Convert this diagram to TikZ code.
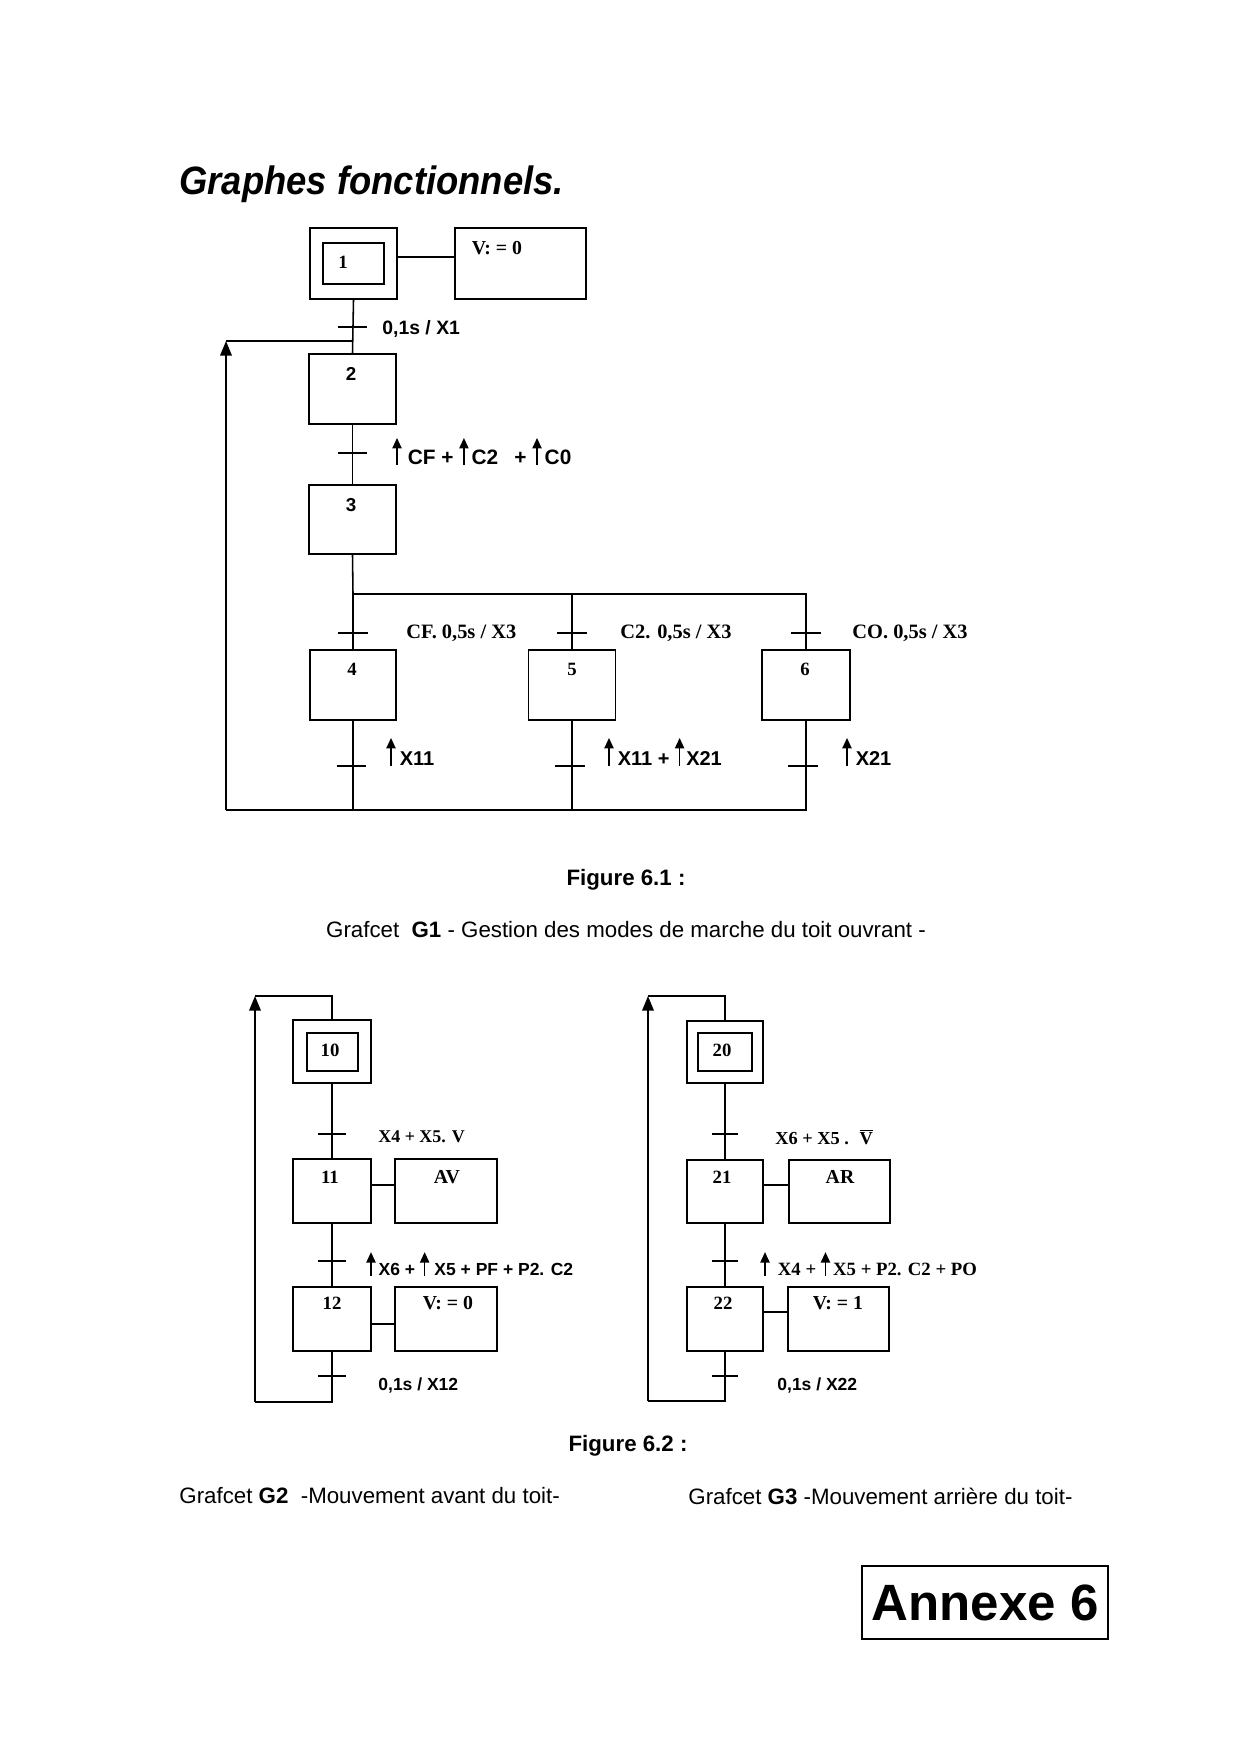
\documentclass[tikz,border=0pt]{standalone}
\usepackage{fontspec}
\setmainfont{Liberation Serif}
\setsansfont{Liberation Sans}
\usepackage{graphicx}
\usetikzlibrary{arrows.meta,calc}
\newcommand{\pu}{0.48pt}
\newcommand{\fsz}[1]{\fontsize{#1}{#1}\selectfont}
\newcommand{\rise}[1][12pt]{\tikz[baseline=0pt]{\draw[line width=0.75pt,-{Triangle[length=5pt,width=4.4pt]}] (0,-0.3pt) -- (0,#1);}}
\newcommand{\trtick}[2]{\draw[tk] ($(#1)+(-#2,0)$) -- ($(#1)+(#2,0)$);}
\begin{document}
\begin{tikzpicture}[x=\pu, y=-\pu,
  stepbox/.style={draw, line width=0.95pt, inner sep=0pt},
  sz/.style 2 args={minimum width=#1*\pu, minimum height=#2*\pu},
  num/.style={font=\fsz{9}\bfseries, inner sep=0pt},
  numsans/.style={font=\sffamily\fsz{9}\bfseries, inner sep=0pt},
  act/.style={font=\fsz{9.5}\bfseries, inner sep=0pt},
  lsans/.style={font=\sffamily\fsz{#1}\bfseries, inner sep=0pt, anchor=west},
  lserif/.style={font=\fsz{#1}\bfseries, inner sep=0pt, anchor=west},
  lnk/.style={line width=0.75pt},
  tk/.style={line width=0.8pt},
  ret/.style={line width=0.95pt},
  arr/.style={ret, -{Triangle[length=7pt,width=5.5pt]}},
  captxt/.style={font=\sffamily\fsz{10.7}, inner sep=0pt}
]
\useasboundingbox (0,0) rectangle (1240,1754);

% ---------- title ----------
\node[anchor=base west, inner sep=0pt, font=\sffamily\bfseries\itshape\fsz{19}] (title) at (179,194) {\scalebox{0.92}[1]{Graphes fonctionnels.}};

% ---------- G1 ----------
\node[stepbox, sz={87}{71}] (s1) at (353.5,263.5) {};
\node[stepbox, sz={61}{41}] (s1i) at (353.5,263.5) {};
\node[num] (n1) at (343,262) {1};
\node[stepbox, sz={131}{71}] (a1) at (520.5,263.5) {};
\node[act] (a1t) at (497,248) {V:~=~0};
\draw[lnk] ($(s1.east)+(0,-6.5)$) -- ($(a1.west)+(0,-6.5)$);

\node[stepbox, sz={87}{70}] (s2) at (352.5,389) {};
\node[numsans] (n2) at (351,374) {2};
\node[stepbox, sz={87}{69}] (s3) at (352.5,519.5) {};
\node[numsans] (n3) at (351,505) {3};

\draw[lnk] (s1.south) -- (s2.north);
\coordinate (t1) at (352.5,327);
\trtick{t1}{14.5}
\node[lsans=9.3] (l1) at (382,329) {0,1s / X1};

\draw[lnk] (s2.south) -- (s3.north);
\coordinate (t2) at (352.5,453);
\trtick{t2}{14.5}
\node[lsans=10, anchor=base west] (l2) at (392,464) {\rise[12.5pt]\hspace{3pt}CF + \rise[12.5pt]\hspace{1.5pt}C2\hspace{5pt} + \rise[12.5pt]\hspace{1.5pt}C0};

\node[stepbox, sz={86}{70}] (s4) at (353,685) {};
\node[num] (n4) at (352,669) {4};
\node[stepbox, sz={87}{70}] (s5) at (572,685) {};
\node[num] (n5) at (572,669) {5};
\node[stepbox, sz={88}{70}] (s6) at (806,685) {};
\node[num] (n6) at (805,669) {6};

\coordinate (b0) at (353,594);
\draw[lnk] (s3.south) -- (b0) -- (b0 -| s6.north) -- (s6.north);
\draw[lnk] (b0) -- (s4.north);
\draw[lnk] (b0 -| s5.north) -- (s5.north);
\coordinate (t4) at (353,633);
\coordinate (t5) at (572,633);
\coordinate (t6) at (806,633);
\trtick{t4}{15}
\trtick{t5}{15}
\trtick{t6}{15}
\node[lserif=9.8] (l4) at (406,633) {CF. 0,5s / X3};
\node[lserif=9.8] (l5) at (620,633) {C2. 0,5s / X3};
\node[lserif=9.8] (l6) at (852,633) {CO. 0,5s / X3};

\coordinate (r0) at (226,810);
\coordinate (r1) at (226,341);
\draw[lnk] (s4.south) -- (s4.south |- r0);
\draw[lnk] (s5.south) -- (s5.south |- r0);
\draw[ret] (s6.south) -- (s6.south |- r0) -- (r0);
\draw[arr] (r0) -- (r1);
\draw[ret] (r1) -- (r1 -| s2.north);
\coordinate (t7) at (351,766);
\coordinate (t8) at (570,766);
\coordinate (t9) at (803,766);
\trtick{t7}{14.5}
\trtick{t8}{15}
\trtick{t9}{15}
\node[lsans=9.6, anchor=base west] (l7) at (386,765) {\rise[13pt]\hspace{2pt}X11};
\node[lsans=9.6, anchor=base west] (l8) at (604,765) {\rise[13pt]\hspace{2pt}X11 + \rise[13pt]\hspace{1pt}X21};
\node[lsans=9.6, anchor=base west] (l9) at (842,765) {\rise[13pt]\hspace{2pt}X21};

\node[captxt, font=\sffamily\fsz{10.7}\bfseries] (f1) at (626,880) {Figure 6.1 :};
\node[captxt] (c1) at (626,930) {Grafcet\ \ \textbf{G1} - Gestion des modes de marche du toit ouvrant -};

% ---------- G2 ----------
\node[stepbox, sz={78}{63}] (s10) at (332,1051.5) {};
\node[stepbox, sz={51}{38}] (s10i) at (332.5,1052) {};
\node[num] (n10) at (330,1050) {10};
\node[stepbox, sz={78}{64}] (s11) at (332,1191) {};
\node[num] (n11) at (330,1177) {11};
\node[stepbox, sz={102}{64}] (a11) at (446,1191) {};
\node[act] (a11t) at (447,1177) {AV};
\node[stepbox, sz={78}{64}] (s12) at (332,1319) {};
\node[num] (n12) at (332,1303) {12};
\node[stepbox, sz={102}{64}] (a12) at (446,1319) {};
\node[act] (a12t) at (448,1303) {V:~=~0};

\draw[lnk] ($(s11.east)+(0,-6)$) -- ($(a11.west)+(0,-6)$);
\draw[lnk] ($(s12.east)+(0,5)$) -- ($(a12.west)+(0,5)$);
\draw[lnk] (s10.south) -- (s11.north);
\draw[lnk] (s11.south) -- (s12.north);
\coordinate (g2b) at (255,1402);
\coordinate (g2t) at (255,996);
\draw[ret] (s12.south) -- (s12.south |- g2b) -- (g2b);
\draw[arr] (g2b) -- (g2t);
\draw[lnk] (g2t) -- (g2t -| s10.north) -- (s10.north);
\coordinate (t10) at (332,1134);
\coordinate (t11) at (332,1261);
\coordinate (t12) at (332,1376);
\trtick{t10}{14}
\trtick{t11}{14}
\trtick{t12}{14}
\node[lserif=8.6] (l10) at (378,1137) {X4 + X5. V};
\node[lsans=8.4, anchor=base west] (l11) at (366,1275) {\rise[11pt]\hspace{1.5pt}X6 + \rise[11pt]\hspace{2.5pt}X5 + PF + P2. C2};
\node[lsans=8.4] (l12) at (378,1385) {0,1s / X12};

% ---------- G3 ----------
\node[stepbox, sz={76}{62}] (s20) at (725,1052) {};
\node[stepbox, sz={54}{38}] (s20i) at (725,1052) {};
\node[num] (n20) at (722,1050) {20};
\node[stepbox, sz={76}{63}] (s21) at (725,1191.5) {};
\node[num] (n21) at (722,1177) {21};
\node[stepbox, sz={101}{63}] (a21) at (839.5,1191.5) {};
\node[act] (a21t) at (840,1177) {AR};
\node[stepbox, sz={76}{64}] (s22) at (725,1319) {};
\node[num] (n22) at (723,1303) {22};
\node[stepbox, sz={101}{64}] (a22) at (838.5,1319) {};
\node[act] (a22t) at (838,1303) {V:~=~1};

\draw[lnk] ($(s21.east)+(0,-6.5)$) -- ($(a21.west)+(0,-6.5)$);
\draw[lnk] ($(s22.east)+(0,-7)$) -- ($(a22.west)+(0,-7)$);
\draw[lnk] (s20.south) -- (s21.north);
\draw[lnk] (s21.south) -- (s22.north);
\coordinate (g3b) at (648,1401);
\coordinate (g3t) at (648,996);
\draw[ret] (s22.south) -- (s22.south |- g3b) -- (g3b);
\draw[arr] (g3b) -- (g3t);
\draw[lnk] (g3t) -- (g3t -| s20.north) -- (s20.north);
\coordinate (t20) at (725,1134);
\coordinate (t21) at (725,1261);
\coordinate (t22) at (725,1376);
\trtick{t20}{13}
\trtick{t21}{13}
\trtick{t22}{13}
\node[lserif=8.8] (l20) at (775,1137) {X6 + X5 . \ $\overline{\mbox{V}}$};
\node[lserif=9, anchor=base west] (l21) at (760,1275) {\rise[11pt]\hspace{4pt}X4 + \rise[11pt]\hspace{1.5pt}X5 + P2. C2 + PO};
\node[lsans=8.4] (l22) at (777,1385) {0,1s / X22};

% ---------- captions ----------
\node[captxt, font=\sffamily\fsz{10.7}\bfseries] (f2) at (628,1446) {Figure 6.2 :};
\node[captxt, anchor=west] (c2) at (179,1496) {Grafcet \textbf{G2}\ \ -Mouvement avant du toit-};
\node[captxt, anchor=west] (c3) at (688,1496) {Grafcet \textbf{G3} -Mouvement arri\`ere du toit-};

\node[draw, line width=1pt, sz={246}{73}, font=\sffamily\bfseries\fsz{24.5}] (annexe) at (985,1602.5) {Annexe 6};
\end{tikzpicture}
\end{document}
